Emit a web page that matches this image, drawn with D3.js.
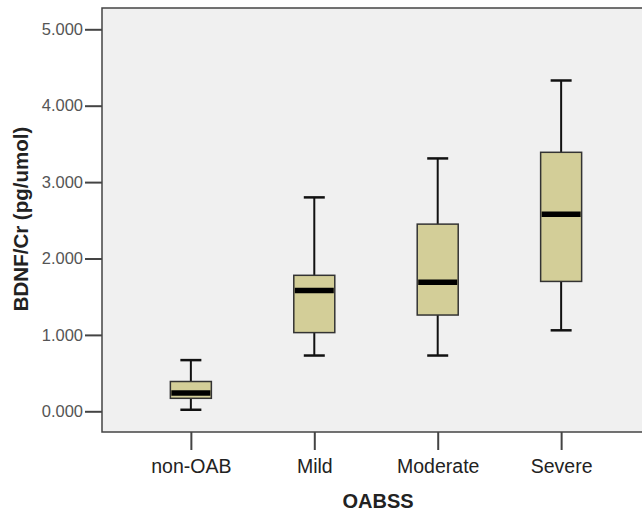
<!DOCTYPE html>
<html>
<head>
<meta charset="utf-8">
<script src="https://cdn.jsdelivr.net/npm/d3@7"></script>
<style>
  body { margin: 0; background: #fff; }
  text { font-family: Arial, "Liberation Sans", sans-serif; }
</style>
</head>
<body>
<svg id="chart"></svg>
<script>
// groups and box statistics
var categories = ["non-OAB", "Mild", "Moderate", "Severe"];
var whiskerLow = [0.02, 0.73, 0.73, 1.06];
var q1 = [0.17, 1.03, 1.26, 1.70];
var median = [0.24, 1.58, 1.69, 2.58];
var q3 = [0.39, 1.78, 2.45, 3.39];
var whiskerHigh = [0.67, 2.80, 3.31, 4.33];
var yTicks = [0, 1, 2, 3, 4, 5];

var width = 642, height = 512;
var plot = { left: 102, top: 8, right: 650, bottom: 432 };

var svg = d3.select("#chart").attr("width", width).attr("height", height);

var x = d3.scalePoint().domain(categories).range([plot.left, plot.right]).padding(0.72);
var y = d3.scaleLinear().domain([0, 5]).range([411.3, 29.3]);

// plot background with frame
svg.append("rect")
  .attr("x", plot.left).attr("y", plot.top)
  .attr("width", plot.right - plot.left).attr("height", plot.bottom - plot.top)
  .attr("fill", "#f0f0f0").attr("stroke", "#444").attr("stroke-width", 1.5);

// y axis
var yAxis = svg.append("g")
  .attr("transform", "translate(" + plot.left + ",0)")
  .call(d3.axisLeft(y).tickValues(yTicks).tickFormat(d3.format(".3f")).tickSize(17).tickPadding(2));
yAxis.select(".domain").remove();
yAxis.selectAll(".tick line").attr("stroke", "#444").attr("stroke-width", 2);
yAxis.selectAll(".tick text").attr("fill", "#555").style("font-size", "16.5px")
  .style("font-family", "Arial, 'Liberation Sans', sans-serif");

// x axis
var xAxis = svg.append("g")
  .attr("transform", "translate(0," + plot.bottom + ")")
  .call(d3.axisBottom(x).tickSize(18).tickPadding(9));
xAxis.select(".domain").remove();
xAxis.selectAll(".tick line").attr("stroke", "#444").attr("stroke-width", 2);
xAxis.selectAll(".tick text").attr("fill", "#222").style("font-size", "19.5px")
  .style("font-family", "Arial, 'Liberation Sans', sans-serif");

// boxes
var boxW = 41, capW = 21;
var data = categories.map(function (c, i) {
  return { name: c, lo: whiskerLow[i], q1: q1[i], med: median[i], q3: q3[i], hi: whiskerHigh[i] };
});

var g = svg.selectAll(".box").data(data).enter().append("g").attr("class", "box");

// whiskers
g.append("line")
  .attr("x1", function (d) { return x(d.name); }).attr("x2", function (d) { return x(d.name); })
  .attr("y1", function (d) { return y(d.hi); }).attr("y2", function (d) { return y(d.q3); })
  .attr("stroke", "#111").attr("stroke-width", 2);
g.append("line")
  .attr("x1", function (d) { return x(d.name); }).attr("x2", function (d) { return x(d.name); })
  .attr("y1", function (d) { return y(d.q1); }).attr("y2", function (d) { return y(d.lo); })
  .attr("stroke", "#111").attr("stroke-width", 2);
// caps
["hi", "lo"].forEach(function (k) {
  g.append("line")
    .attr("x1", function (d) { return x(d.name) - capW / 2; })
    .attr("x2", function (d) { return x(d.name) + capW / 2; })
    .attr("y1", function (d) { return y(d[k]); }).attr("y2", function (d) { return y(d[k]); })
    .attr("stroke", "#111").attr("stroke-width", 2.5);
});

g.append("rect")
  .attr("x", function (d) { return x(d.name) - boxW / 2; })
  .attr("y", function (d) { return y(d.q3); })
  .attr("width", boxW)
  .attr("height", function (d) { return y(d.q1) - y(d.q3); })
  .attr("fill", "#d3ce98").attr("stroke", "#333").attr("stroke-width", 1.5);

g.append("line")
  .attr("x1", function (d) { return x(d.name) - boxW / 2 + 1; })
  .attr("x2", function (d) { return x(d.name) + boxW / 2 - 1; })
  .attr("y1", function (d) { return y(d.med); }).attr("y2", function (d) { return y(d.med); })
  .attr("stroke", "#000").attr("stroke-width", 5.5);

// axis titles
svg.append("text")
  .attr("x", 378).attr("y", 508)
  .attr("text-anchor", "middle")
  .style("font-size", "20px").style("font-weight", "bold").attr("fill", "#222")
  .text("OABSS");

svg.append("text")
  .attr("transform", "translate(28,219) rotate(-90)")
  .attr("text-anchor", "middle")
  .style("font-size", "20.5px").style("font-weight", "bold").attr("fill", "#222")
  .text("BDNF/Cr (pg/umol)");
</script>
</body>
</html>
